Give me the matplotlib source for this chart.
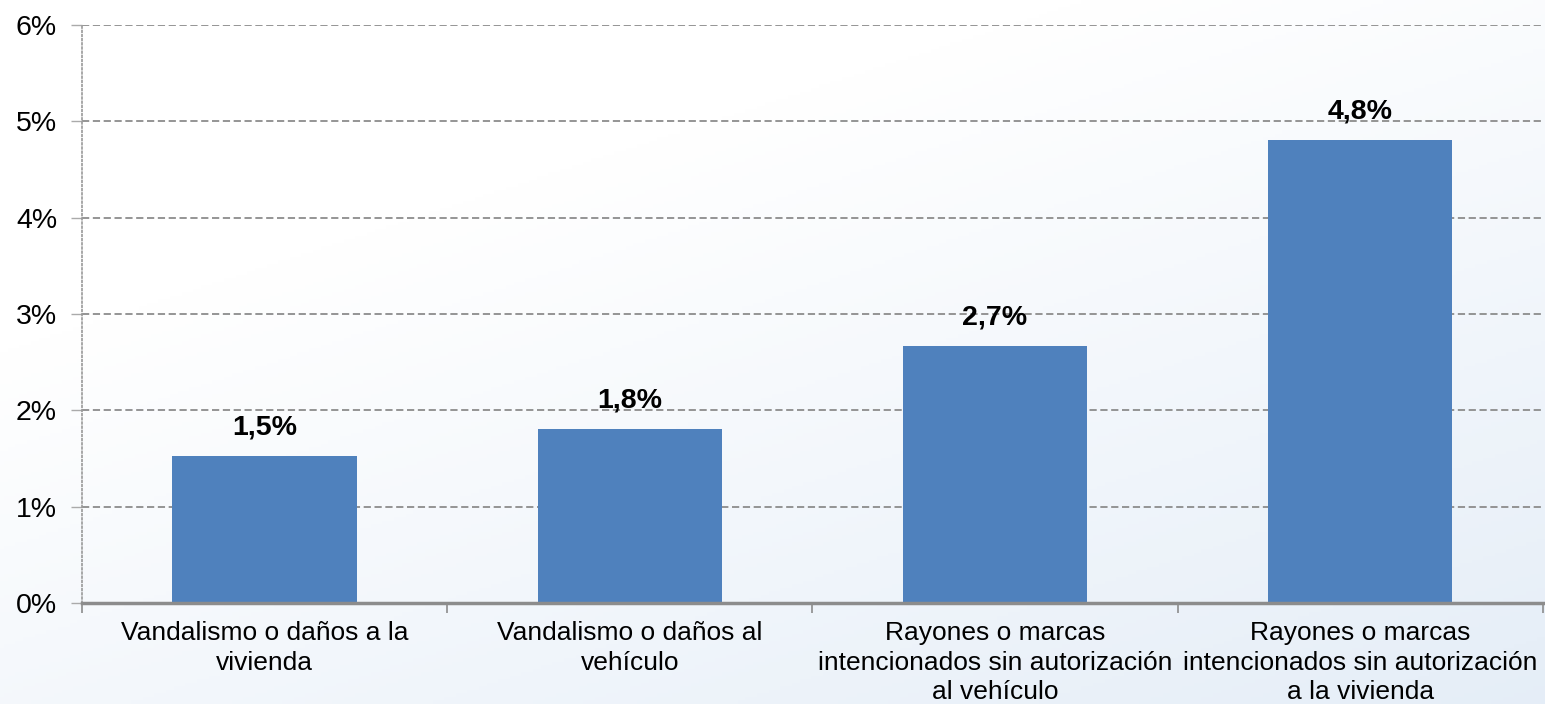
import numpy as np
import matplotlib
matplotlib.use("Agg")
import matplotlib.pyplot as plt
from matplotlib.ticker import FixedLocator, FuncFormatter

plt.rcParams["font.family"] = ["Liberation Sans", "DejaVu Sans"]

# ── Data ─────────────────────────────────────────────────────────────────────
CATEGORIES = [
    "Vandalismo o daños a la\nvivienda",
    "Vandalismo o daños al\nvehículo",
    "Rayones o marcas\nintencionados sin autorización\nal vehículo",
    "Rayones o marcas\nintencionados sin autorización\na la vivienda",
]
VALUES = [1.53, 1.81, 2.67, 4.81]   # percent
Y_TICKS = [0, 1, 2, 3, 4, 5, 6]

# ── Style ────────────────────────────────────────────────────────────────────
BAR_COL = "#4F81BD"
GRID_COL = "#8C8C8C"
AXIS_COL = "#8C8C8C"
FS_X = 19
FS_Y = 20.5
FS_LBL = 20.5

fig = plt.figure(figsize=(15.45, 7.04), dpi=100)

# faint background gradient (white top-left -> pale blue bottom-right)
bg = fig.add_axes([0, 0, 1, 1], zorder=-10)
yy, xx = np.mgrid[0:1:200j, 0:1:400j]
t = np.clip(0.5 * xx + 0.7 * yy - 0.35, 0, 1)
c0 = np.array([1.0, 1.0, 1.0])
c1 = np.array([0.88, 0.92, 0.965])
img = c0[None, None, :] * (1 - t[..., None]) + c1[None, None, :] * t[..., None]
bg.imshow(img, aspect="auto", extent=[0, 1, 0, 1], origin="upper")
bg.axis("off")

ax = fig.add_axes([0.0531, 0.1435, 0.9455, 0.821])
ax.set_facecolor("none")

x = np.arange(len(CATEGORIES))
ax.bar(x, VALUES, width=0.505, color=BAR_COL, zorder=3)

for xi, v in zip(x, VALUES):
    ax.annotate(f"{v:.1f}%".replace(".", ","), (xi, v), xytext=(0, 15),
                textcoords="offset points", ha="center", va="baseline",
                fontsize=FS_LBL, fontweight="bold", color="black", zorder=4)

ax.set_xlim(-0.5, len(CATEGORIES) - 0.5)
ax.set_ylim(0, 6)
ax.yaxis.set_major_locator(FixedLocator(Y_TICKS))
ax.yaxis.set_major_formatter(FuncFormatter(lambda v, _: f"{v:.0f}%"))
ax.grid(axis="y", linestyle=(0, (4, 2)), color=GRID_COL, lw=1.3, zorder=0)

ax.set_xticks(x)
ax.set_xticklabels(CATEGORIES, fontsize=FS_X, linespacing=1.3)
ax.set_xticks(np.arange(-0.5, len(CATEGORIES)), minor=True)
ax.tick_params(axis="x", which="major", length=0, pad=13)
ax.tick_params(axis="x", which="minor", length=7, width=1.2, color=AXIS_COL,
               direction="out")
ax.tick_params(axis="y", labelsize=FS_Y, length=8, width=1, color="#AAAAAA", pad=10)

for s in ("top", "right"):
    ax.spines[s].set_visible(False)
ax.spines["left"].set_linestyle((0, (1, 1.5)))
ax.spines["left"].set_color("#999999")
ax.spines["left"].set_linewidth(1.2)
ax.spines["bottom"].set_color(AXIS_COL)
ax.spines["bottom"].set_linewidth(2.5)
ax.spines["bottom"].set_zorder(5)

fig.savefig("out.png", dpi=100)
